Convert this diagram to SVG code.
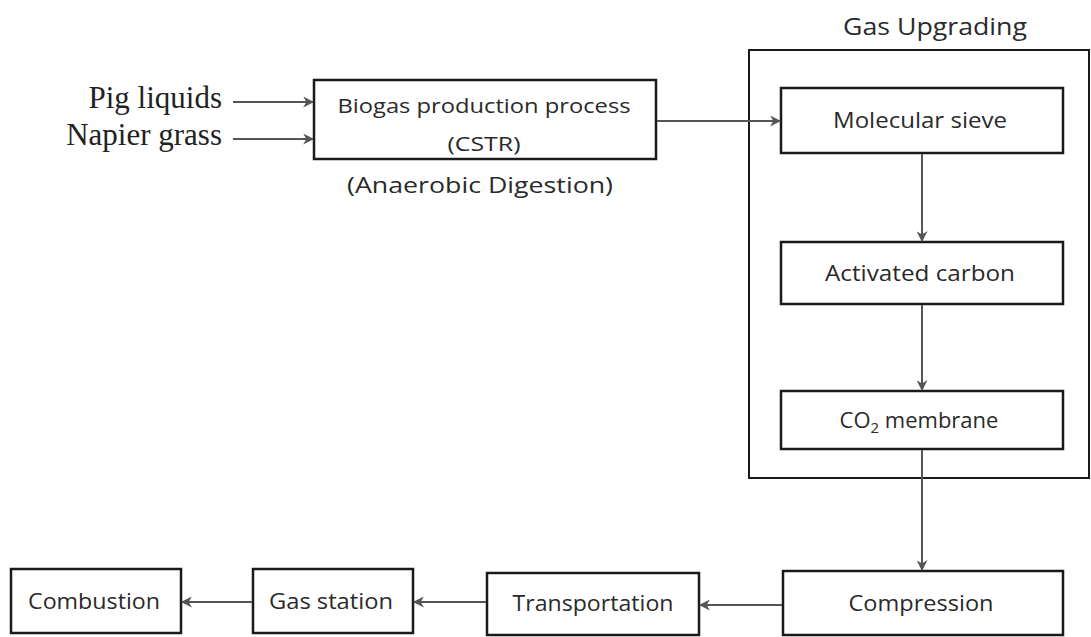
<svg xmlns="http://www.w3.org/2000/svg" width="1091" height="637" viewBox="0 0 1091 637">
<style>
.box{fill:#fff;stroke:#1a1a1a;stroke-width:2.5}
.lbl{font-family:"Open Sans","Noto Sans",sans-serif;font-size:21px;fill:#2a2a2a;text-anchor:middle}
.ser{font-family:"Liberation Serif","Times New Roman",serif;font-size:31px;fill:#222;text-anchor:end}
.con{stroke:#555;stroke-width:2;fill:none;marker-end:url(#ah)}
</style>
<defs>
<marker id="ah" viewBox="0 0 10 10" refX="9" refY="5" markerWidth="5.5" markerHeight="5.5" orient="auto" markerUnits="strokeWidth">
<path d="M0,0 L10,5 L0,10 L3,5 Z" fill="#555"/>
</marker>
</defs>
<rect width="1091" height="637" fill="#fff"/>
<g id="inputs">
<text class="ser" x="222" y="108">Pig liquids</text>
<text class="ser" x="222" y="145">Napier grass</text>
</g>
<g id="upgrading-group">
<rect x="749" y="50" width="340" height="428" fill="none" stroke="#1a1a1a" stroke-width="2"/>
<text class="lbl" x="935" y="35" style="font-size:23px" textLength="184" lengthAdjust="spacingAndGlyphs">Gas Upgrading</text>
</g>
<g id="biogas">
<rect class="box" x="314" y="80" width="342" height="79"/>
<text class="lbl" x="484" y="113" style="font-size:20px" textLength="293" lengthAdjust="spacingAndGlyphs">Biogas production process</text>
<text class="lbl" x="484" y="151" style="font-size:20px" textLength="73" lengthAdjust="spacingAndGlyphs">(CSTR)</text>
<text class="lbl" x="480" y="193" style="font-size:22px" textLength="266" lengthAdjust="spacingAndGlyphs">(Anaerobic Digestion)</text>
</g>
<g id="molecular-sieve">
<rect class="box" x="781" y="88" width="282" height="65"/>
<text class="lbl" x="920" y="128" textLength="174" lengthAdjust="spacingAndGlyphs">Molecular sieve</text>
</g>
<g id="activated-carbon">
<rect class="box" x="781" y="242" width="282" height="62"/>
<text class="lbl" x="920" y="281" textLength="190" lengthAdjust="spacingAndGlyphs">Activated carbon</text>
</g>
<g id="co2-membrane">
<rect class="box" x="781" y="391" width="282" height="58"/>
<text class="lbl" x="919" y="428" style="font-size:22px">CO<tspan style="font-size:15px" dy="5">2</tspan><tspan dy="-5"> membrane</tspan></text>
</g>
<g id="compression">
<rect class="box" x="783" y="571" width="280" height="64"/>
<text class="lbl" x="921" y="611" textLength="145" lengthAdjust="spacingAndGlyphs">Compression</text>
</g>
<g id="transportation">
<rect class="box" x="487" y="573" width="212" height="62"/>
<text class="lbl" x="593" y="611" textLength="161" lengthAdjust="spacingAndGlyphs">Transportation</text>
</g>
<g id="gas-station">
<rect class="box" x="253" y="569" width="160" height="64"/>
<text class="lbl" x="331" y="609" textLength="124" lengthAdjust="spacingAndGlyphs">Gas station</text>
</g>
<g id="combustion">
<rect class="box" x="11" y="569" width="170" height="64"/>
<text class="lbl" x="94" y="609" textLength="132" lengthAdjust="spacingAndGlyphs">Combustion</text>
</g>
<g id="connectors">
<line class="con" x1="233" y1="102" x2="313" y2="102"/>
<line class="con" x1="233" y1="139" x2="313" y2="139"/>
<line class="con" x1="657" y1="121" x2="780" y2="121"/>
<line class="con" x1="922" y1="154" x2="922" y2="241"/>
<line class="con" x1="922" y1="305" x2="922" y2="390"/>
<line class="con" x1="922" y1="450" x2="922" y2="570"/>
<line class="con" x1="782" y1="605" x2="700" y2="605"/>
<line class="con" x1="486" y1="602" x2="414" y2="602"/>
<line class="con" x1="252" y1="602" x2="182" y2="602"/>
</g>
</svg>
